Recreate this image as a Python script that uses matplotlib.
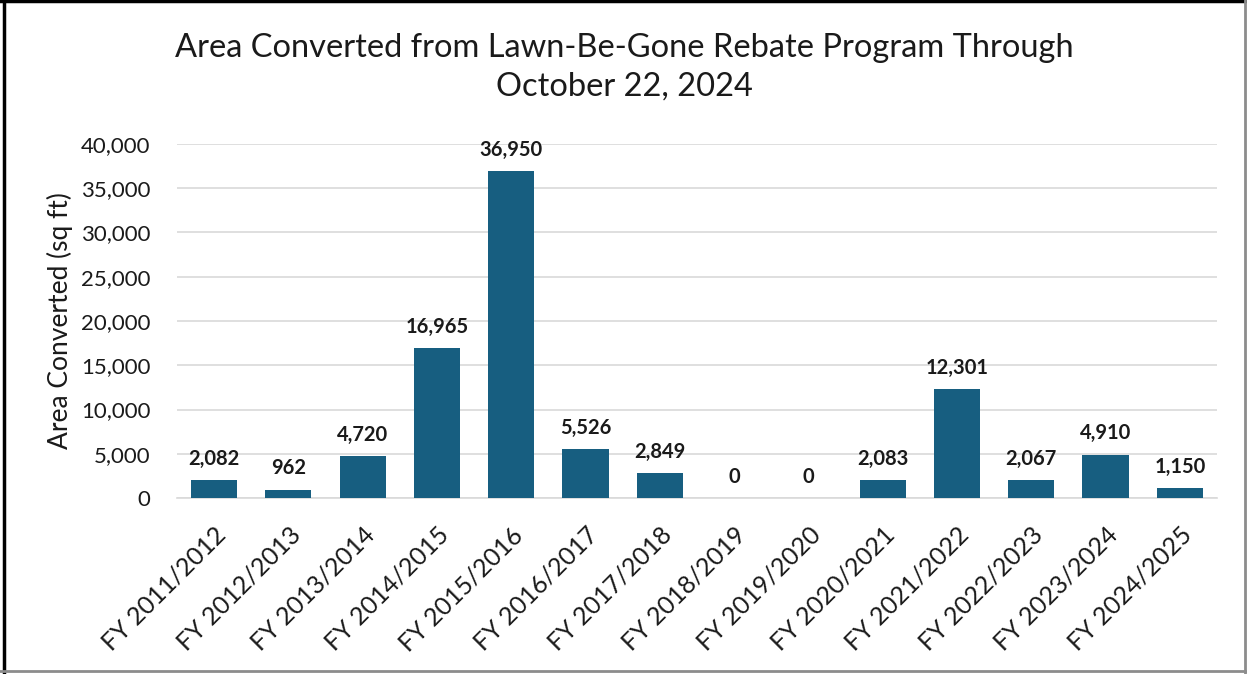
import matplotlib

matplotlib.use("Agg")

import matplotlib.pyplot as plt
from matplotlib.lines import Line2D
from matplotlib.ticker import FuncFormatter

plt.rcParams["font.family"] = ["Lato", "DejaVu Sans"]

# Lawn-Be-Gone converted area per fiscal year (sq ft)
fiscal_years = [
    "FY 2011/2012", "FY 2012/2013", "FY 2013/2014", "FY 2014/2015",
    "FY 2015/2016", "FY 2016/2017", "FY 2017/2018", "FY 2018/2019",
    "FY 2019/2020", "FY 2020/2021", "FY 2021/2022", "FY 2022/2023",
    "FY 2023/2024", "FY 2024/2025",
]
area_sqft = [2082, 962, 4720, 16965, 36950, 5526, 2849, 0, 0,
             2083, 12301, 2067, 4910, 1150]
y_ticks = [0, 5000, 10000, 15000, 20000, 25000, 30000, 35000, 40000]

bar_color = "#175E80"

fig = plt.figure(figsize=(12.47, 6.74), dpi=100)
ax = fig.add_axes([0.1419, 0.2611, 0.834, 0.5253])

x = list(range(len(fiscal_years)))
bars = ax.bar(x, area_sqft, width=0.62, color=bar_color, zorder=3)

for xi, v in zip(x, area_sqft):
    ax.annotate(f"{v:,}", (xi, v), xytext=(0, 8), textcoords="offset points",
                ha="center", va="bottom", fontsize=14.5, fontweight="bold",
                color="#1a1a1a")

ax.set_xlim(-0.5, len(fiscal_years) - 0.5)
ax.set_ylim(0, 40000)
ax.set_yticks(y_ticks)
ax.yaxis.set_major_formatter(FuncFormatter(lambda v, _: f"{int(v):,}"))
ax.grid(axis="y", color="#D9D9D9", linewidth=1.2, zorder=0)

ax.set_xticks(x)
ax.set_xticklabels(fiscal_years, rotation=45, ha="right", va="top",
                   rotation_mode="anchor", fontsize=18, color="#1a1a1a")
ax.tick_params(axis="x", length=0, pad=18)
ax.tick_params(axis="y", length=0, pad=19, labelsize=16, labelcolor="#1a1a1a")

for side in ["top", "right", "left"]:
    ax.spines[side].set_visible(False)
ax.spines["bottom"].set_color("#D9D9D9")
ax.spines["bottom"].set_linewidth(1.2)

ax.set_ylabel("Area Converted (sq ft)", fontsize=19, color="#1a1a1a", labelpad=6)

fig.text(0.501, 0.9, "Area Converted from Lawn-Be-Gone Rebate Program Through\nOctober 22, 2024",
         ha="center", va="center", fontsize=23.5, color="#1a1a1a", linespacing=1.38)

# frame around the chart: dark on top/left, grey on right/bottom
fig.add_artist(Line2D([0.003, 0.003], [0, 1], color="black", linewidth=2.5,
                      transform=fig.transFigure))
fig.add_artist(Line2D([0, 1], [0.998, 0.998], color="black", linewidth=2.5,
                      transform=fig.transFigure))
fig.add_artist(Line2D([0.9985, 0.9985], [0, 1], color="#8c8c8c", linewidth=2,
                      transform=fig.transFigure))
fig.add_artist(Line2D([0, 1], [0.005, 0.005], color="#8c8c8c", linewidth=2,
                      transform=fig.transFigure))

fig.savefig("out.png", dpi=100)
